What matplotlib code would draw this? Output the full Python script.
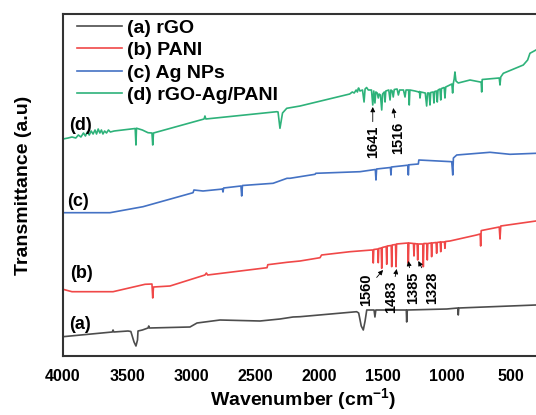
import matplotlib
matplotlib.use("Agg")
import matplotlib.pyplot as plt

# FTIR spectra (wavenumber in cm-1, offset transmittance in a.u.)
rgo_wn = [4000, 3615, 3609, 3603, 3492, 3470, 3445, 3430, 3418, 3414, 3380, 3336, 3330, 3325,
          3008, 2953, 2773, 2461, 2305, 2203, 2148, 1706, 1690, 1670, 1654, 1640, 1627,
          1570, 1563, 1556, 1318, 1315, 1310, 1002, 915, 912, 908, 305]
rgo_t = [19.3, 24, 26, 24, 25, 24.5, 14, 10, 16, 25, 26, 28, 30, 28,
         29, 33, 36, 35, 37, 39, 39.3, 44.3, 43, 30, 26, 35, 46,
         46, 39, 46, 46, 34, 46, 47, 48, 41, 48, 51]

pani_wn = [4000, 3930, 3609, 3359, 3305, 3299, 3293, 3164, 2891, 2880, 2870, 2406, 2400, 2250,
           2148, 1992, 1980, 1758, 1588,
           1580, 1576, 1572, 1541, 1537, 1533, 1514, 1510, 1506, 1475, 1471, 1467,
           1436, 1432, 1428, 1402, 1398, 1394, 1306, 1302, 1298, 1262, 1258, 1254,
           1233, 1229, 1225, 1189, 1185, 1181, 1158, 1154, 1150, 1124, 1120, 1116,
           1085, 1081, 1077, 1053, 1049, 1045, 1020, 1016, 1012,
           977, 769, 741, 737, 733, 730, 592, 586, 580, 305]
pani_t = [66.7, 64.3, 64.3, 71.7, 72, 58, 69, 70, 81, 83, 81, 88.3, 91.3, 93.7,
          95, 98.3, 101, 104.3, 106,
          106, 93, 106.5, 107, 93.3, 107.5, 108, 87.7, 108.5, 109.5, 91.7, 110,
          110.5, 89.3, 111, 111.5, 89.3, 112, 113, 92.7, 113, 112.5, 100, 112.5,
          112, 96, 112, 112, 89.3, 112.5, 112.5, 96, 112.5, 113, 99.3, 113,
          113.5, 102.7, 113.5, 114, 104.3, 114, 114, 107.7, 114.5,
          115, 121, 122, 110, 125.3, 125.5, 129, 117, 130, 135]

ag_wn = [4000, 3633, 3375, 2984, 2977, 2906, 2773, 2755, 2750, 2745, 2610, 2604, 2598,
         2359, 2250, 2227, 2031, 2025, 1680, 1560, 1555, 1550, 1442, 1438, 1434,
         1306, 1302, 1298, 1224, 1220, 963, 955, 950, 924, 664, 508, 305]
ag_t = [143.3, 143.3, 149.3, 163.3, 166, 165, 166.7, 167, 164, 168, 170, 160, 170.5,
        172.7, 177.7, 177.7, 181.7, 182.7, 184.3, 186.5, 176, 187, 188.5, 181, 189,
        190.8, 181, 191.2, 192, 196, 194.3, 181, 198, 201, 203.7, 201.7, 202.7]

comp_wn = [4000, 3960, 3930, 3900, 3880, 3860, 3840, 3825, 3810, 3795, 3780, 3765, 3750, 3738,
           3725, 3712, 3700, 3688, 3675, 3660, 3645, 3630, 3600,
           3436, 3430, 3426, 3380, 3336, 3305, 3299, 3293, 2898, 2891, 2884,
           2330, 2320, 2310, 2305, 2298, 2285, 2252, 2148, 1760, 1740, 1725, 1710, 1700,
           1693, 1690, 1680, 1660, 1648, 1640, 1628, 1615, 1590, 1580, 1572, 1563, 1556,
           1545, 1537, 1530, 1520, 1510, 1503, 1490, 1484, 1478, 1455, 1445, 1438,
           1428, 1420, 1412, 1390, 1380, 1370, 1340, 1328, 1320, 1300, 1295, 1290,
           1250, 1220, 1215, 1211, 1205, 1170, 1159, 1152, 1140, 1133, 1127,
           1108, 1102, 1096, 1082, 1076, 1070, 1055, 1049, 1043, 1022, 1016, 1010,
           977, 962, 956, 950, 944, 938, 930, 912, 820, 740, 733, 729, 725,
           592, 586, 580, 560, 404, 370, 352, 305]
comp_t = [217, 218, 219, 218, 221, 219, 223, 220, 224, 221, 225, 222, 226, 222,
          227, 223, 226, 222, 225, 223, 226, 224, 225,
          227.5, 211, 227.8, 226, 223.3, 223, 211, 223, 237, 240, 237,
          244.3, 244, 233, 227.7, 233, 243, 247.7, 250, 262, 264, 263, 266, 264,
          267.7, 268, 265, 266, 254, 267, 268.5, 266, 266, 251, 265, 253, 264,
          263, 258, 262, 261, 246, 262, 264, 254, 265, 266, 256, 266,
          265, 259, 266.5, 267, 261, 266, 266, 259, 266, 266, 251, 266,
          265, 264, 264.5, 258, 264, 263, 250, 263, 263, 251, 263.5,
          264, 253, 264.5, 265, 254, 266, 267, 256, 267.5, 268.5, 258, 269,
          271, 272, 263, 273, 277, 284, 275, 273, 276, 274, 274, 264, 276.5,
          278, 271, 279, 282.7, 291, 296, 302.7, 306]

series = [
    ("(a) rGO", rgo_wn, rgo_t, "#4d4d4d"),
    ("(b) PANI", pani_wn, pani_t, "#f04848"),
    ("(c) Ag NPs", ag_wn, ag_t, "#4472c4"),
    ("(d) rGO-Ag/PANI", comp_wn, comp_t, "#2eb27a"),
]

# curve tags and peak annotations: (text, peak wn, peak t, text wn, text t)
tags = [("(a)", 3867, 32), ("(b)", 3852, 83), ("(c)", 3883, 155), ("(d)", 3867, 231)]
peaks = [
    ("1641", 1580, 249, 1580, 214),
    ("1516", 1420, 248, 1383, 218),
    ("1560", 1500, 86, 1633, 66),
    ("1483", 1393, 87, 1437, 59),
    ("1385", 1302, 95, 1266, 68),
    ("1328", 1224, 95, 1117, 68),
]

plt.rcParams["font.family"] = ["Liberation Sans", "DejaVu Sans"]
plt.rcParams["font.weight"] = "bold"
plt.rcParams["mathtext.fontset"] = "custom"
plt.rcParams["mathtext.rm"] = "Liberation Sans:bold"
plt.rcParams["mathtext.bf"] = "Liberation Sans:bold"

fig = plt.figure(figsize=(5.36, 4.15), dpi=100)
# axes runs past the right edge, as in the cropped original
ax = fig.add_axes([63 / 536, 1 - 356 / 415, 480 / 536, 342 / 415])

for label, wn, t, c in series:
    ax.plot(wn, t, color=c, lw=1.2, label=label)

for txt, x, y in tags:
    ax.text(x, y, txt, fontsize=13, fontweight="bold", ha="center", va="center")

for txt, px, py, tx, ty in peaks:
    ax.annotate(txt, xy=(px, py), xytext=(tx, ty), rotation=90, fontsize=10.5,
                fontweight="bold", ha="center", va="center",
                arrowprops=dict(arrowstyle="-|>", color="black", lw=0.6,
                                mutation_scale=7, shrinkA=1, shrinkB=0))

ax.set_xlim(4000, 250)
ax.set_ylim(0, 342)
ax.set_xticks([4000, 3500, 3000, 2500, 2000, 1500, 1000, 500])
ax.set_yticks([])
ax.tick_params(axis="x", length=0, pad=9, labelsize=11.5)
for s in ax.spines.values():
    s.set_color("#333333")
    s.set_linewidth(1.5)

ax.set_xlabel("Wavenumber (cm$^{\\mathbf{-1}}$)", fontsize=14, fontweight="bold", labelpad=2)
ax.set_ylabel("Transmittance (a.u)", fontsize=14, fontweight="bold", labelpad=22)

ax.legend(loc="upper left", bbox_to_anchor=(0.029, 0.985), frameon=False,
          handlelength=2.3, handletextpad=0.3, labelspacing=0.25, borderpad=0,
          borderaxespad=0, prop={"weight": "bold", "size": 14})

fig.savefig("out.png", dpi=100)
